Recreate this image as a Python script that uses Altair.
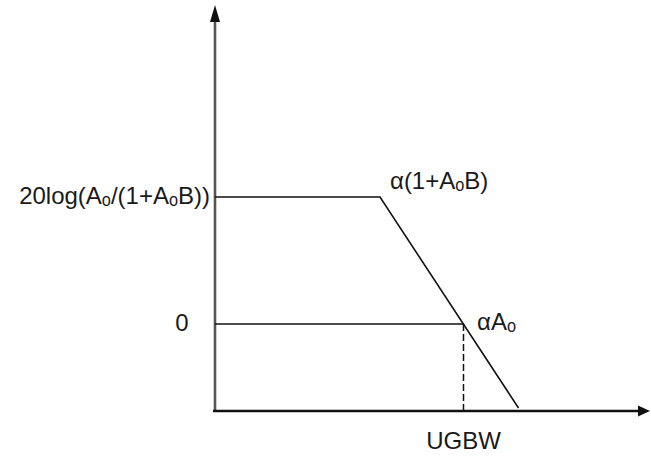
import altair as alt
import pandas as pd

# Closed-loop gain magnitude (dB) against log frequency (decades)
bode_freq = [0.0, 3.3, 6.07]
bode_gain = [33.4, 33.4, -22.1]

ugbw = 4.97          # unity-gain bandwidth (decades)
axis_floor = -22.9   # where the frequency axis sits
axis_top = 81.3      # top of the gain axis
freq_axis_end = 8.5  # end of the frequency axis

label_text = ["20log(Aₒ/(1+AₒB))", "α(1+AₒB)", "αAₒ", "0", "UGBW"]
label_x = [-0.1, 3.5, 5.24, -0.66, ugbw]
label_y = [33.4, 37.4, 0.3, 0.0, -31.0]
label_align = ["right", "left", "left", "center", "center"]

X_DOMAIN = [-4.3, 8.72]
Y_DOMAIN = [-35.53, 85.26]

xs = alt.Scale(domain=X_DOMAIN, nice=False, zero=False)
ys = alt.Scale(domain=Y_DOMAIN, nice=False, zero=False)


def X(field="x"):
    return alt.X(f"{field}:Q", scale=xs, axis=None)


def Y(field="y"):
    return alt.Y(f"{field}:Q", scale=ys, axis=None)


bode = pd.DataFrame({"x": bode_freq, "y": bode_gain, "o": range(len(bode_freq))})
curve = alt.Chart(bode).mark_line(color="#111", strokeWidth=1.6).encode(
    x=X(), y=Y(), order="o:Q"
)

zero_line = alt.Chart(pd.DataFrame({"x": [0.0], "x2": [ugbw], "y": [0.0]})).mark_rule(
    color="#111", strokeWidth=1.5
).encode(x=X(), x2="x2:Q", y=Y())

ugbw_drop = alt.Chart(pd.DataFrame({"x": [ugbw], "y": [0.0], "y2": [axis_floor]})).mark_rule(
    color="#111", strokeWidth=1.5, strokeDash=[7, 3]
).encode(x=X(), y=Y(), y2="y2:Q")

freq_axis = alt.Chart(pd.DataFrame({"x": [-0.04], "x2": [freq_axis_end], "y": [axis_floor]})).mark_rule(
    color="#111", strokeWidth=2.4
).encode(x=X(), x2="x2:Q", y=Y())

gain_axis = alt.Chart(pd.DataFrame({"x": [0.0], "y": [axis_floor], "y2": [axis_top]})).mark_rule(
    color="#555", strokeWidth=2.6
).encode(x=X(), y=Y(), y2="y2:Q")

arrow_right = alt.Chart(pd.DataFrame({"x": [freq_axis_end], "y": [axis_floor]})).mark_point(
    shape="M1,0L-0.2,-0.55L-0.2,0.55Z", size=400, filled=True, color="#111", opacity=1
).encode(x=X(), y=Y())

arrow_up = alt.Chart(pd.DataFrame({"x": [0.0], "y": [axis_top]})).mark_point(
    shape="M0,-1L-0.5,0.7L0.5,0.7Z", size=400, filled=True, color="#111", opacity=1
).encode(x=X(), y=Y())

labels = pd.DataFrame({"x": label_x, "y": label_y, "t": label_text, "a": label_align})
text_layers = []
for align in ["right", "left", "center"]:
    text_layers.append(
        alt.Chart(labels[labels["a"] == align]).mark_text(
            align=align, baseline="middle", font="Liberation Sans", fontSize=24, color="#1a1a1a"
        ).encode(x=X(), y=Y(), text="t:N")
    )

chart = alt.layer(
    gain_axis, freq_axis, zero_line, ugbw_drop, curve, arrow_right, arrow_up, *text_layers
).properties(
    width=651, height=459, autosize=alt.AutoSizeParams(type="none"), padding=0,
    background="white"
).configure_view(stroke=None)

chart.save("out.html", embed_options={"renderer": "svg", "actions": False})
